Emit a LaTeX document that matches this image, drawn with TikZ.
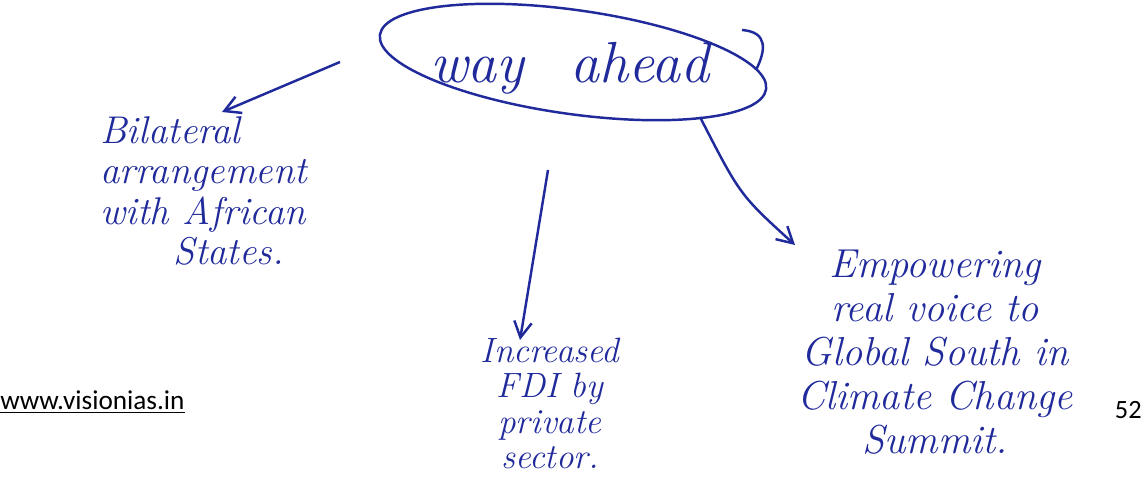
\documentclass[tikz,border=0pt]{standalone}
\usepackage{fontspec}
\setmainfont{Latin Modern Roman}
\newfontfamily\webfont{Carlito}
\usetikzlibrary{shapes.geometric,arrows.meta}
\definecolor{ink}{RGB}{32,42,155}
\tikzset{
  hand/.style={text=ink,font=\itshape,align=center,inner sep=0pt},
  inkline/.style={draw=ink,line width=1.4pt},
  conn/.style={inkline,-{Straight Barb[length=9pt,width=10pt]}},
}
\begin{document}
\begin{tikzpicture}[x=0.02cm,y=-0.02cm]
\useasboundingbox (0,0) rectangle (1148,490);
% central topic
\node[hand,ellipse,minimum width=7.6cm,minimum height=1.8cm,
      font=\fontsize{33}{40}\selectfont\itshape] (way) at (570,68) {way\hspace{0.8em}ahead};
\draw[inkline,rotate around={-8:(573,62)}] (573,62) ellipse [x radius=195, y radius=52];
\draw[inkline] (742,30) .. controls (768,32) and (766,50) .. (756,70);
% branches
\node[hand,anchor=north west,align=left,font=\fontsize{22}{23}\selectfont\itshape] (bil) at (100,116)
  {Bilateral\\arrangement\\with African\\\hspace{1.9em}States.};
\node[hand,anchor=north,font=\fontsize{20}{20}\selectfont\itshape] (fdi) at (550,338)
  {Increased\\FDI by\\private\\sector.};
\node[hand,anchor=north,font=\fontsize{23}{25}\selectfont\itshape] (emp) at (935,250)
  {Empowering\\real voice to\\Global South in\\Climate Change\\Summit.};
% connectors
\coordinate (l0) at (340,62);
\coordinate (m0) at (548,170);
\coordinate (r0) at (700,117);
\coordinate (l1) at (222,112);
\coordinate (m1) at (520,340);
\coordinate (r1) at (795,245);
\draw[conn] (l0) -- (l1);
\draw[conn] (m0) -- (m1);
\draw[conn] (r0) .. controls (740,195) .. (r1);
% footer
\node[anchor=west,inner sep=0pt,font=\webfont\fontsize{15.5}{18}\selectfont] (web) at (0,402) {\underline{www.visionias.in}};
\node[anchor=east,inner sep=0pt,font=\webfont\fontsize{15}{17}\selectfont] (pg) at (1142,410) {52};
\end{tikzpicture}
\end{document}
